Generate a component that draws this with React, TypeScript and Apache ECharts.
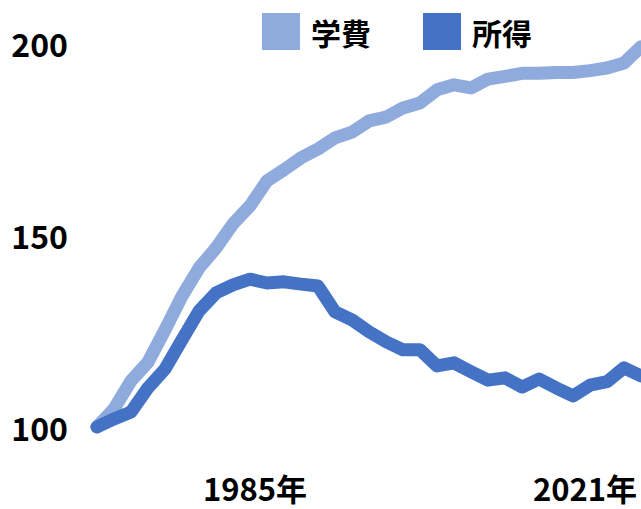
import React, { useEffect, useRef } from 'react';
import * as echarts from 'echarts';

const years = [
  '1985', '1986', '1987', '1988', '1989', '1990', '1991', '1992', '1993', '1994', '1995',
  '1996', '1997', '1998', '1999', '2000', '2001', '2002', '2003', '2004', '2005', '2006',
  '2007', '2008', '2009', '2010', '2011', '2012', '2013', '2014', '2015', '2016', '2017',
];

const tuition = [
  100, 104.7, 112.0, 116.9, 125.3, 134.1, 141.4, 146.6, 152.9, 157.6, 164.1,
  167.0, 170.1, 172.4, 175.3, 176.8, 179.7, 180.7, 183.1, 184.4, 187.8, 189.1,
  188.3, 190.6, 191.3, 192.1, 192.1, 192.3, 192.3, 192.8, 193.5, 194.8, 199.0,
];

const income = [
  100, 102.1, 103.9, 110.2, 115.1, 122.7, 130.2, 134.9, 137.0, 138.5, 137.5,
  137.8, 137.2, 136.7, 130.0, 127.9, 124.8, 122.2, 120.1, 120.1, 115.9, 116.7,
  114.4, 112.2, 112.8, 110.4, 112.5, 110.2, 108.1, 110.9, 111.8, 115.4, 113.3,
];

const seriesNames = ['学費', '所得'];
const yTickMin = 100;
const yTickMax = 200;
const yTickStep = 50;
const xLabelYears = [1985, 2021];

const FONT = '"Noto Sans CJK JP", "Noto Sans", sans-serif';

export default function App() {
  const ref = useRef<HTMLDivElement>(null);

  useEffect(() => {
    if (!ref.current) return;
    const chart = echarts.init(ref.current, null, { renderer: 'svg', width: 641, height: 509 });
    chart.setOption({
      animation: false,
      backgroundColor: '#ffffff',
      textStyle: { fontFamily: FONT },
      legend: {
        data: seriesNames,
        left: 257,
        top: 8,
        icon: 'rect',
        itemWidth: 38,
        itemHeight: 37,
        itemGap: 52,
        textStyle: {
          fontFamily: FONT,
          fontSize: 30,
          fontWeight: 'bold',
          color: '#000000',
          padding: [0, 0, 0, 6],
        },
      },
      grid: { left: 97, right: 0, top: 43, bottom: 82, containLabel: false },
      xAxis: [
        {
          type: 'category',
          data: years,
          boundaryGap: false,
          show: false,
        },
        {
          type: 'value',
          position: 'bottom',
          min: 1967.76,
          max: 2027.11,
          axisLine: { show: false },
          axisTick: { show: false },
          splitLine: { show: false },
          axisLabel: {
            customValues: xLabelYears,
            formatter: (v: number) => `${Math.round(v)}年`,
            margin: 45,
            lineHeight: 31,
            fontFamily: FONT,
            fontSize: 31,
            fontWeight: 'bold',
            color: '#000000',
          },
        },
      ],
      yAxis: {
        type: 'value',
        min: yTickMin,
        max: yTickMax,
        interval: yTickStep,
        axisLine: { show: false },
        axisTick: { show: false },
        splitLine: { show: false },
        axisLabel: {
          margin: 29,
          lineHeight: 32,
          padding: [0, 0, 6, 0],
          fontFamily: FONT,
          fontSize: 32,
          fontWeight: 'bold',
          color: '#000000',
        },
      },
      series: [
        {
          name: seriesNames[0],
          type: 'line',
          xAxisIndex: 0,
          data: tuition,
          symbol: 'none',
          clip: false,
          color: '#8FAADC',
          lineStyle: { width: 13, color: '#8FAADC', cap: 'round', join: 'round' },
        },
        {
          name: seriesNames[1],
          type: 'line',
          xAxisIndex: 0,
          data: income,
          symbol: 'none',
          clip: false,
          color: '#4472C4',
          lineStyle: { width: 13, color: '#4472C4', cap: 'round', join: 'round' },
        },
      ],
    });
    return () => chart.dispose();
  }, []);

  return (
    <div
      ref={ref}
      style={{ position: 'fixed', left: 0, top: 0, width: 641, height: 509, background: '#fff' }}
    />
  );
}
